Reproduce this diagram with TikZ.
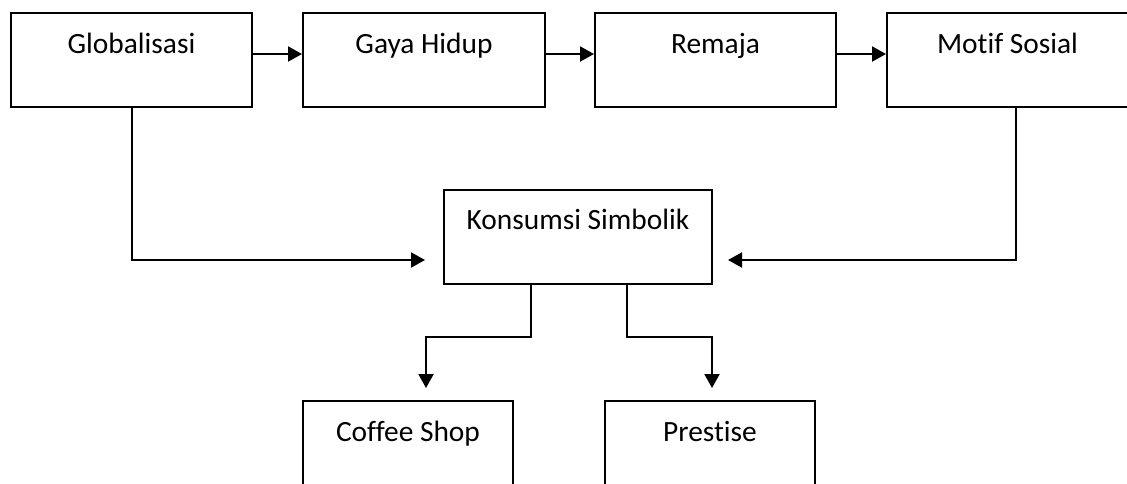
\documentclass[tikz,border=0pt]{standalone}
\usepackage{fontspec}
\setmainfont{Carlito}[Ligatures={NoCommon,NoRare}]
\usetikzlibrary{arrows.meta}
\tikzset{
  box/.style = {
    draw,
    line width=1pt,
    inner sep=0pt,
    minimum height=47pt,
    text height=20pt,
    text depth=27pt,
    font=\fontsize{14.7}{17}\selectfont
  }
}
\tikzset{>={Triangle[length=7pt,width=7.5pt]}}

\begin{document}
\begin{tikzpicture}[x=0.5pt,y=-0.5pt,line width=1pt]
    \useasboundingbox (0,0) rectangle (1127,483);
    \clip (0,0) rectangle (1127,483);
    \node[box,minimum width=120.5pt] (glob) at (131.5,60) {Globalisasi};
    \node[box,minimum width=121pt] (gaya) at (424,60) {Gaya Hidup};
    \node[box,minimum width=120.5pt] (remaja) at (715.5,60) {Remaja};
    \node[box,minimum width=120.5pt] (motif) at (1007.5,60) {Motif Sosial};
    \node[box,minimum width=134pt] (kons) at (578,236.5) {Konsumsi Simbolik};
    \node[box,minimum width=105pt] (coffee) at (408,448) {Coffee Shop};
    \node[box,minimum width=105pt] (prestise) at (710,448) {Prestise};
    \coordinate (inL) at (425,260);
    \coordinate (inR) at (728,260);
    \coordinate (outL) at (426,388);
    \coordinate (outR) at (712,388);
    \draw[->] ([yshift=3pt]glob.east) -- ([yshift=3pt]gaya.west);
    \draw[->] ([yshift=3pt]gaya.east) -- ([yshift=3pt]remaja.west);
    \draw[->] ([yshift=3pt]remaja.east) -- ([yshift=3pt]motif.west);
    \draw[->] (glob.south) |- (inL);
    \draw[->] ([xshift=4.25pt]motif.south) |- (inR);
    \draw[->] ([xshift=-23.5pt]kons.south) -- ++(0,52) -| (outL);
    \draw[->] ([xshift=24.5pt]kons.south) -- ++(0,52) -| (outR);
\end{tikzpicture}
\end{document}
